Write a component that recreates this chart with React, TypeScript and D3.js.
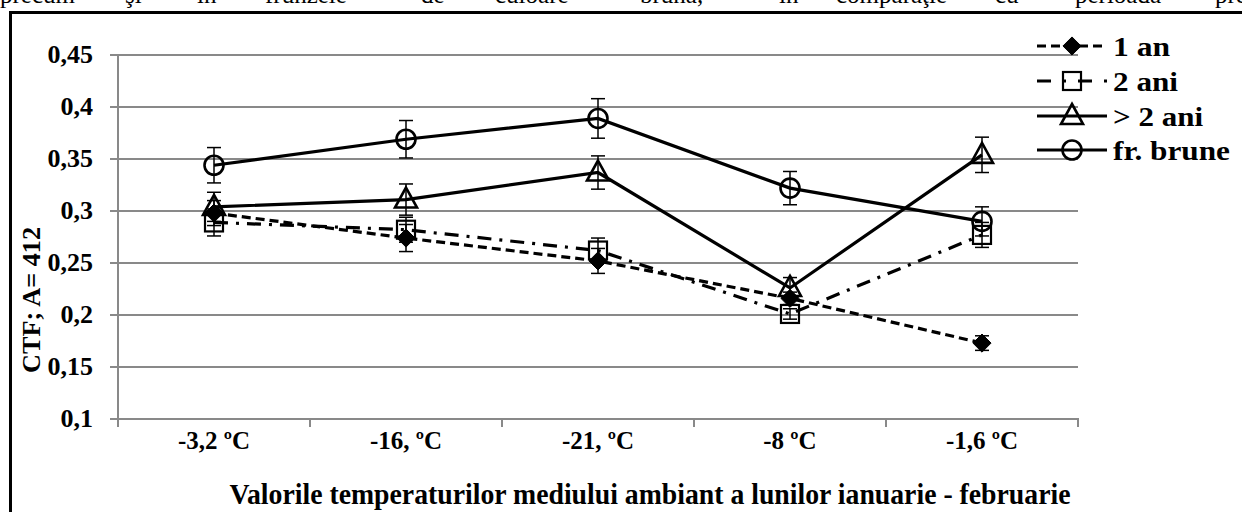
import React from "react";
import * as d3 from "d3";

const categories = ["-3,2 ºC", "-16, ºC", "-21, ºC", "-8 ºC", "-1,6 ºC"];
const yTicks = [0.1, 0.15, 0.2, 0.25, 0.3, 0.35, 0.4, 0.45];
const yTickLabels = ["0,1", "0,15", "0,2", "0,25", "0,3", "0,35", "0,4", "0,45"];

const an1 = [0.298, 0.274, 0.252, 0.216, 0.173];
const an1Err = [0.012, 0.013, 0.012, 0.006, 0.007];
const ani2 = [0.289, 0.282, 0.262, 0.201, 0.277];
const ani2Err = [0.013, 0.012, 0.012, 0.005, 0.012];
const ani2plus = [0.304, 0.311, 0.337, 0.226, 0.354];
const ani2plusErr = [0.014, 0.015, 0.016, 0.01, 0.017];
const brune = [0.344, 0.369, 0.389, 0.322, 0.29];
const bruneErr = [0.017, 0.018, 0.019, 0.016, 0.014];

const seriesNames = ["1 an", "2 ani", "> 2 ani", "fr. brune"];

const topWords = [
  ["precum", 0], ["şi", 125], ["în", 197], ["frunzele", 265], ["de", 421],
  ["culoare", 495], ["brună,", 640], ["în", 779], ["comparaţie", 836],
  ["cu", 995], ["perioada", 1075], ["precedentă", 1215],
] as [string, number][];

const FONT = "'Liberation Serif', 'Times New Roman', Times, serif";
const ts: React.CSSProperties = { fontFamily: FONT };

type Marker = "diamond" | "square" | "triangle" | "circle";

function MarkerShape({ type, x, y }: { type: Marker; x: number; y: number }) {
  if (type === "diamond") {
    const p = d3.symbol().type(d3.symbolDiamond2).size(210)();
    return <path d={p || ""} transform={`translate(${x},${y})`} fill="#000" stroke="#000" strokeWidth={1} />;
  }
  if (type === "square") {
    return <rect x={x - 9} y={y - 9} width={18} height={18} fill="none" stroke="#000" strokeWidth={2.2} />;
  }
  if (type === "triangle") {
    return (
      <path
        d={`M${x},${y - 12} L${x + 11},${y + 8} L${x - 11},${y + 8} Z`}
        fill="none"
        stroke="#000"
        strokeWidth={2.6}
        strokeLinejoin="miter"
      />
    );
  }
  return <circle cx={x} cy={y} r={9.5} fill="none" stroke="#000" strokeWidth={2.6} />;
}

export default function App() {
  const W = 1242;
  const H = 512;
  const x = d3.scaleBand<string>().domain(categories).range([118, 1078]).paddingInner(0).paddingOuter(0);
  const y = d3.scaleLinear().domain([0.1, 0.45]).range([419, 55]);
  const cx = (c: string) => (x(c) as number) + x.bandwidth() / 2;

  const line = d3
    .line<number>()
    .x((_, i) => cx(categories[i]))
    .y((d) => y(d));

  const series = [
    { name: seriesNames[0], vals: an1, err: an1Err, marker: "diamond" as Marker, dash: "9,5" },
    { name: seriesNames[1], vals: ani2, err: ani2Err, marker: "square" as Marker, dash: "14,8,3,8" },
    { name: seriesNames[2], vals: ani2plus, err: ani2plusErr, marker: "triangle" as Marker, dash: "" },
    { name: seriesNames[3], vals: brune, err: bruneErr, marker: "circle" as Marker, dash: "" },
  ];

  const legendY = [46, 81, 116, 150];
  const legendLen = [57, 65, 90, 117];
  const bounds = [...categories.map((c) => x(c) as number), 1078];

  return (
    <svg
      width={W}
      height={H}
      viewBox={`0 0 ${W} ${H}`}
      style={{ position: "absolute", left: 0, top: 0, background: "#fff" }}
      fontFamily={FONT}
    >
      <rect x={0} y={0} width={W} height={H} fill="#fff" />
      {topWords.map(([w, px], i) => (
        <text key={i} x={px} y={3} fontSize={25} fill="#000" style={ts}>
          {w}
        </text>
      ))}
      {/* frame */}
      <rect x={10.5} y={12.5} width={W + 50} height={H + 50} fill="none" stroke="#000" strokeWidth={3} />

      {/* gridlines */}
      {yTicks.map((t, i) => (
        <g key={i}>
          {i > 0 && <line x1={118} x2={1078} y1={y(t)} y2={y(t)} stroke="#898989" strokeWidth={2} />}
          <line x1={110} x2={118} y1={y(t)} y2={y(t)} stroke="#898989" strokeWidth={2} />
          <text x={93} y={y(t) + 8} fontSize={26} fontWeight="bold" textAnchor="end" fill="#000" style={ts}>
            {yTickLabels[i]}
          </text>
        </g>
      ))}
      <line x1={118} x2={118} y1={55} y2={427} stroke="#898989" strokeWidth={2} />
      <line x1={110} x2={1079} y1={419} y2={419} stroke="#898989" strokeWidth={2} />
      {bounds.map((b, i) => (
        <line key={i} x1={b} x2={b} y1={419} y2={427} stroke="#898989" strokeWidth={2} />
      ))}
      {categories.map((c) => (
        <text key={c} x={cx(c)} y={449} fontSize={25} fontWeight="bold" textAnchor="middle" fill="#000" style={ts}>
          {c}
        </text>
      ))}
      <text
        x={650}
        y={504}
        fontSize={30}
        fontWeight="bold"
        textAnchor="middle"
        textLength={841}
        lengthAdjust="spacingAndGlyphs"
        fill="#000"
        style={ts}
      >
        Valorile temperaturilor mediului ambiant a lunilor ianuarie - februarie
      </text>
      <text
        transform={`translate(40,300) rotate(-90)`}
        fontSize={26}
        fontWeight="bold"
        textAnchor="middle"
        textLength={146}
        lengthAdjust="spacingAndGlyphs"
        fill="#000"
        style={ts}
      >
        CTF; A= 412
      </text>

      {/* series */}
      {series.map((s, si) => (
        <g key={si}>
          <path
            d={line(s.vals) || ""}
            fill="none"
            stroke="#000"
            strokeWidth={3.2}
            strokeDasharray={s.dash || undefined}
          />
          {s.vals.map((v, i) => {
            const px = cx(categories[i]);
            return (
              <g key={i}>
                <line x1={px} x2={px} y1={y(v + s.err[i])} y2={y(v - s.err[i])} stroke="#000" strokeWidth={1.5} />
                <line x1={px - 7} x2={px + 7} y1={y(v + s.err[i])} y2={y(v + s.err[i])} stroke="#000" strokeWidth={1.5} />
                <line x1={px - 7} x2={px + 7} y1={y(v - s.err[i])} y2={y(v - s.err[i])} stroke="#000" strokeWidth={1.5} />
                <MarkerShape type={s.marker} x={px} y={y(v)} />
              </g>
            );
          })}
        </g>
      ))}

      {/* legend */}
      {series.map((s, si) => {
        const ly = legendY[si];
        return (
          <g key={si}>
            <line
              x1={1037}
              x2={1107}
              y1={ly}
              y2={ly}
              stroke="#000"
              strokeWidth={3.2}
              strokeDasharray={si === 0 ? "9,5" : si === 1 ? "14,12,3,12" : undefined}
            />
            <MarkerShape type={s.marker} x={1072} y={ly} />
            <text
              x={1113}
              y={ly + 10}
              fontSize={28}
              fontWeight="bold"
              fill="#000"
              style={ts}
              textLength={legendLen[si]}
              lengthAdjust="spacingAndGlyphs"
            >
              {s.name}
            </text>
          </g>
        );
      })}
    </svg>
  );
}
